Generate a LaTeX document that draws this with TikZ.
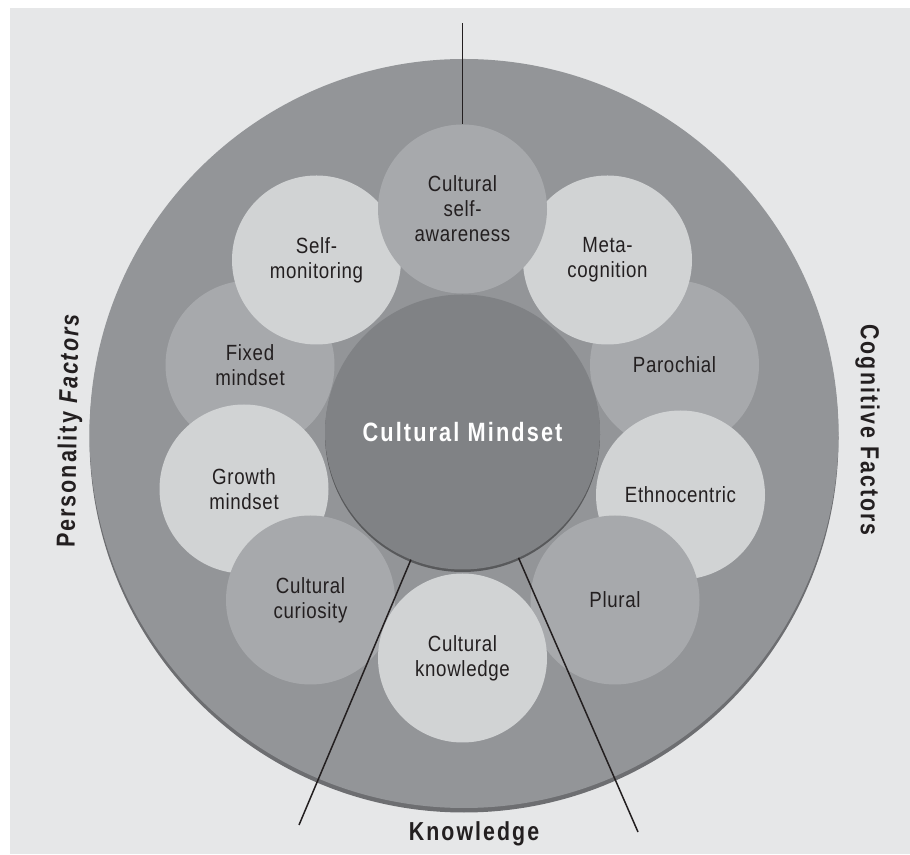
\documentclass[tikz,border=0pt]{standalone}
\usepackage{fontspec}
\setmainfont{Liberation Sans}
\newfontfamily\bodyfont[FakeStretch=0.85, LetterSpace=3]{Liberation Sans}
\newfontfamily\labelfont[FakeStretch=0.82, LetterSpace=8]{Liberation Sans}

\definecolor{panel}{HTML}{E6E7E8}
\definecolor{ring}{HTML}{939598}
\definecolor{ringshade}{HTML}{6D6E71}
\definecolor{bubblemid}{HTML}{A7A9AC}
\definecolor{bubblelight}{HTML}{D1D3D4}
\definecolor{core}{HTML}{808285}
\definecolor{coreshade}{HTML}{58595B}
\definecolor{ink}{HTML}{231F20}

\begin{document}
\begin{tikzpicture}[x=1pt,y=1pt,
  bubble/.style={circle, minimum size=169pt, inner sep=0pt, align=center,
    text=ink, font=\bodyfont\fontsize{22}{25}\selectfont},
  midbubble/.style={bubble, fill=bubblemid},
  lightbubble/.style={bubble, fill=bubblelight},
  corebubble/.style={circle, minimum size=275pt, inner sep=0pt, fill=core,
    text=white, font=\labelfont\fontsize{26.5}{30}\selectfont\bfseries},
  link/.style={draw=ink, line width=1.5pt},
  sectortitle/.style={inner sep=0pt, text=ink, font=\labelfont\fontsize{26}{30}\selectfont\bfseries}]

\useasboundingbox (0,0) rectangle (910,854);
\fill[panel] (10,0) rectangle (910,846);

% outer ring with a soft lower rim
\coordinate (C) at (464,420.5);
\fill[ringshade] (464,416) circle[radius=374.5];
\fill[ring] (C) circle[radius=374.5];

% ring of factor bubbles, back to front
\node[midbubble]   (fixed)  at (250,489)   {Fixed\\mindset};
\node[midbubble]   (paro)   at (674.5,489) {Parochial};
\node[lightbubble] (selfmon) at (316.5,594) {Self-\\monitoring};
\node[lightbubble] (meta)   at (607.5,594) {Meta-\\cognition};
\node[midbubble]   (aware)  at (462.5,645) {Cultural\\self-\\awareness};
\node[lightbubble] (growth) at (244,365)   {Growth\\mindset};
\node[lightbubble] (ethno)  at (680.5,359) {Ethnocentric};
\node[midbubble]   (curio)  at (310.5,254) {Cultural\\curiosity};
\node[midbubble]   (plural) at (615,254)   {Plural};
\node[lightbubble] (know)   at (462.5,196) {Cultural\\knowledge};

% central mindset
\fill[coreshade] (462.5,419.5) circle[radius=137.5];
\node[corebubble] (mind) at (462.5,422) {Cultural Mindset};

% sector dividers
\coordinate (topend)   at (462.5,831);
\coordinate (leftend)  at (299,29);
\coordinate (rightend) at (638,22);
\draw[link] (aware.north) -- (topend);
\draw[link] (mind.-112.6) -- (leftend);
\draw[link] (mind.-66.3)  -- (rightend);

% sector titles
\node[sectortitle, rotate=89]  (ptitle) at (70,423)     {Personality {\itshape Factors}};
\node[sectortitle, rotate=-90] (ctitle) at (867.5,424)  {Cognitive Factors};
\node[sectortitle]             (ktitle) at (474,20.5)   {Knowledge};
\end{tikzpicture}
\end{document}
